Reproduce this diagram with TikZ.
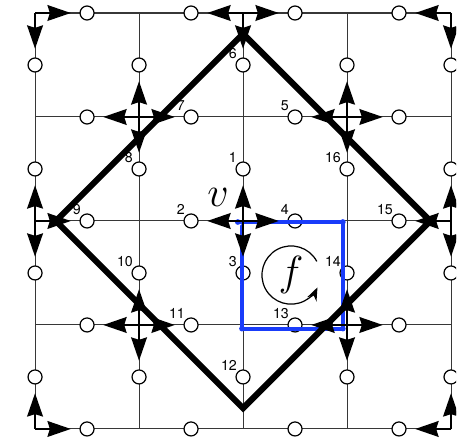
\documentclass[tikz,border=0pt]{standalone}
\usepackage{fontspec}
\setsansfont{TeX Gyre Heros}
\definecolor{ribbonblue}{RGB}{25, 60, 250}
\definecolor{gridgray}{RGB}{55, 55, 55}
\usetikzlibrary{arrows.meta, calc}
\tikzset{
	gridline/.style={draw=gridgray, line width=0.5pt},
	edgept/.style={circle, draw=black, fill=white, line width=0.6pt, minimum size=6.9pt, inner sep=0pt, outer sep=0pt},
	numlab/.style={anchor=south east, inner sep=0.4pt, font=\sffamily\fontsize{7}{8}\selectfont},
	arrow/.style={-{Stealth[length=11.5pt, width=7.8pt, inset=1.2pt]}, line width=0.9pt, shorten >=0.16cm},
	frame/.style={draw=black, line width=3pt, line join=miter},
	ribbon/.style={draw=ribbonblue, line width=2pt, line cap=round},
	turn/.style={-{Stealth[length=6.5pt, width=5pt]}, line width=0.6pt},
	biglab/.style={inner sep=0pt, font=\fontsize{20.74}{24}\selectfont},
}

\begin{document}
\begin{tikzpicture}[x=1.8cm, y=1.8cm]
	\useasboundingbox (-0.337,-0.173) rectangle (4.221,4.125);
	\clip (-0.337,-0.173) rectangle (4.05,4.125);
	\foreach \i in {0,...,4}
		\foreach \j in {0,...,4}
			\coordinate (p\i\j) at (\i,\j);
	\foreach \k in {0,...,4} {
		\draw[gridline] (p0\k) -- (p4\k);
		\draw[gridline] (p\k0) -- (p\k4);
	}
	\foreach \i in {0,...,3}
		\foreach \j in {0,...,4}
			\node[edgept] (h\i\j) at (\i+0.5,\j) {};
	\foreach \i in {0,...,4}
		\foreach \j in {0,...,3}
			\node[edgept] (u\i\j) at (\i,\j+0.5) {};
	\coordinate (b1) at (1.95,1.99);
	\coordinate (b2) at (2.96,1.99);
	\coordinate (b3) at (2.96,0.965);
	\coordinate (b4) at (1.99,0.965);
	\coordinate (b5) at (1.99,1.95);
	\draw[ribbon] (b1) -- (b2);
	\draw[ribbon] (b2) -- (b3);
	\draw[ribbon] (b3) -- (b4);
	\draw[ribbon] (b4) -- (b5);
	\fill[ribbonblue] (b1) circle (1.4pt) (b2) circle (1.4pt) (b3) circle (1.4pt) (b4) circle (1.4pt);
	\coordinate (dt) at (2,3.8);
	\coordinate (dr) at (3.8,2);
	\coordinate (db) at (2,0.2);
	\coordinate (dl) at (0.2,2);
	\draw[frame] (dt) -- (dr) -- (db) -- (dl) -- cycle;
	\foreach \a/\b in {p04/h04, p04/u03, p24/h14, p24/h24, p24/u23, p44/h34, p44/u43,
		p13/u13, p13/h03, p13/h13, p13/u12, p33/u33, p33/h23, p33/h33, p33/u32,
		p02/u02, p02/u01, p02/h02, p22/u22, p22/h12, p22/h22, p22/u21, p42/u42, p42/u41, p42/h32,
		p11/u11, p11/h01, p11/h11, p11/u10, p31/u31, p31/h21, p31/h31, p31/u30,
		p00/u00, p00/h00, p40/u40, p40/h30}
		\draw[arrow] (\a) -- (\b);
	\foreach \n/\t in {u22/1, h12/2, u21/3, h22/4, h23/5, u23/6, h13/7, u12/8, h02/9, u11/10,
		h11/11, u20/12, h21/13, u31/14, h32/15, u32/16}
		\node[numlab] (n\t) at (\n.north west) {\t};
	\coordinate (fc) at (2.462,1.48);
	\node[biglab] (flab) at (fc) {$f$};
	\draw[turn] ([shift={(28:0.28)}]fc) arc[start angle=28, end angle=335, radius=0.28];
	\node[biglab] (vlab) at (1.76,2.23) {$v$};
\end{tikzpicture}
\end{document}
